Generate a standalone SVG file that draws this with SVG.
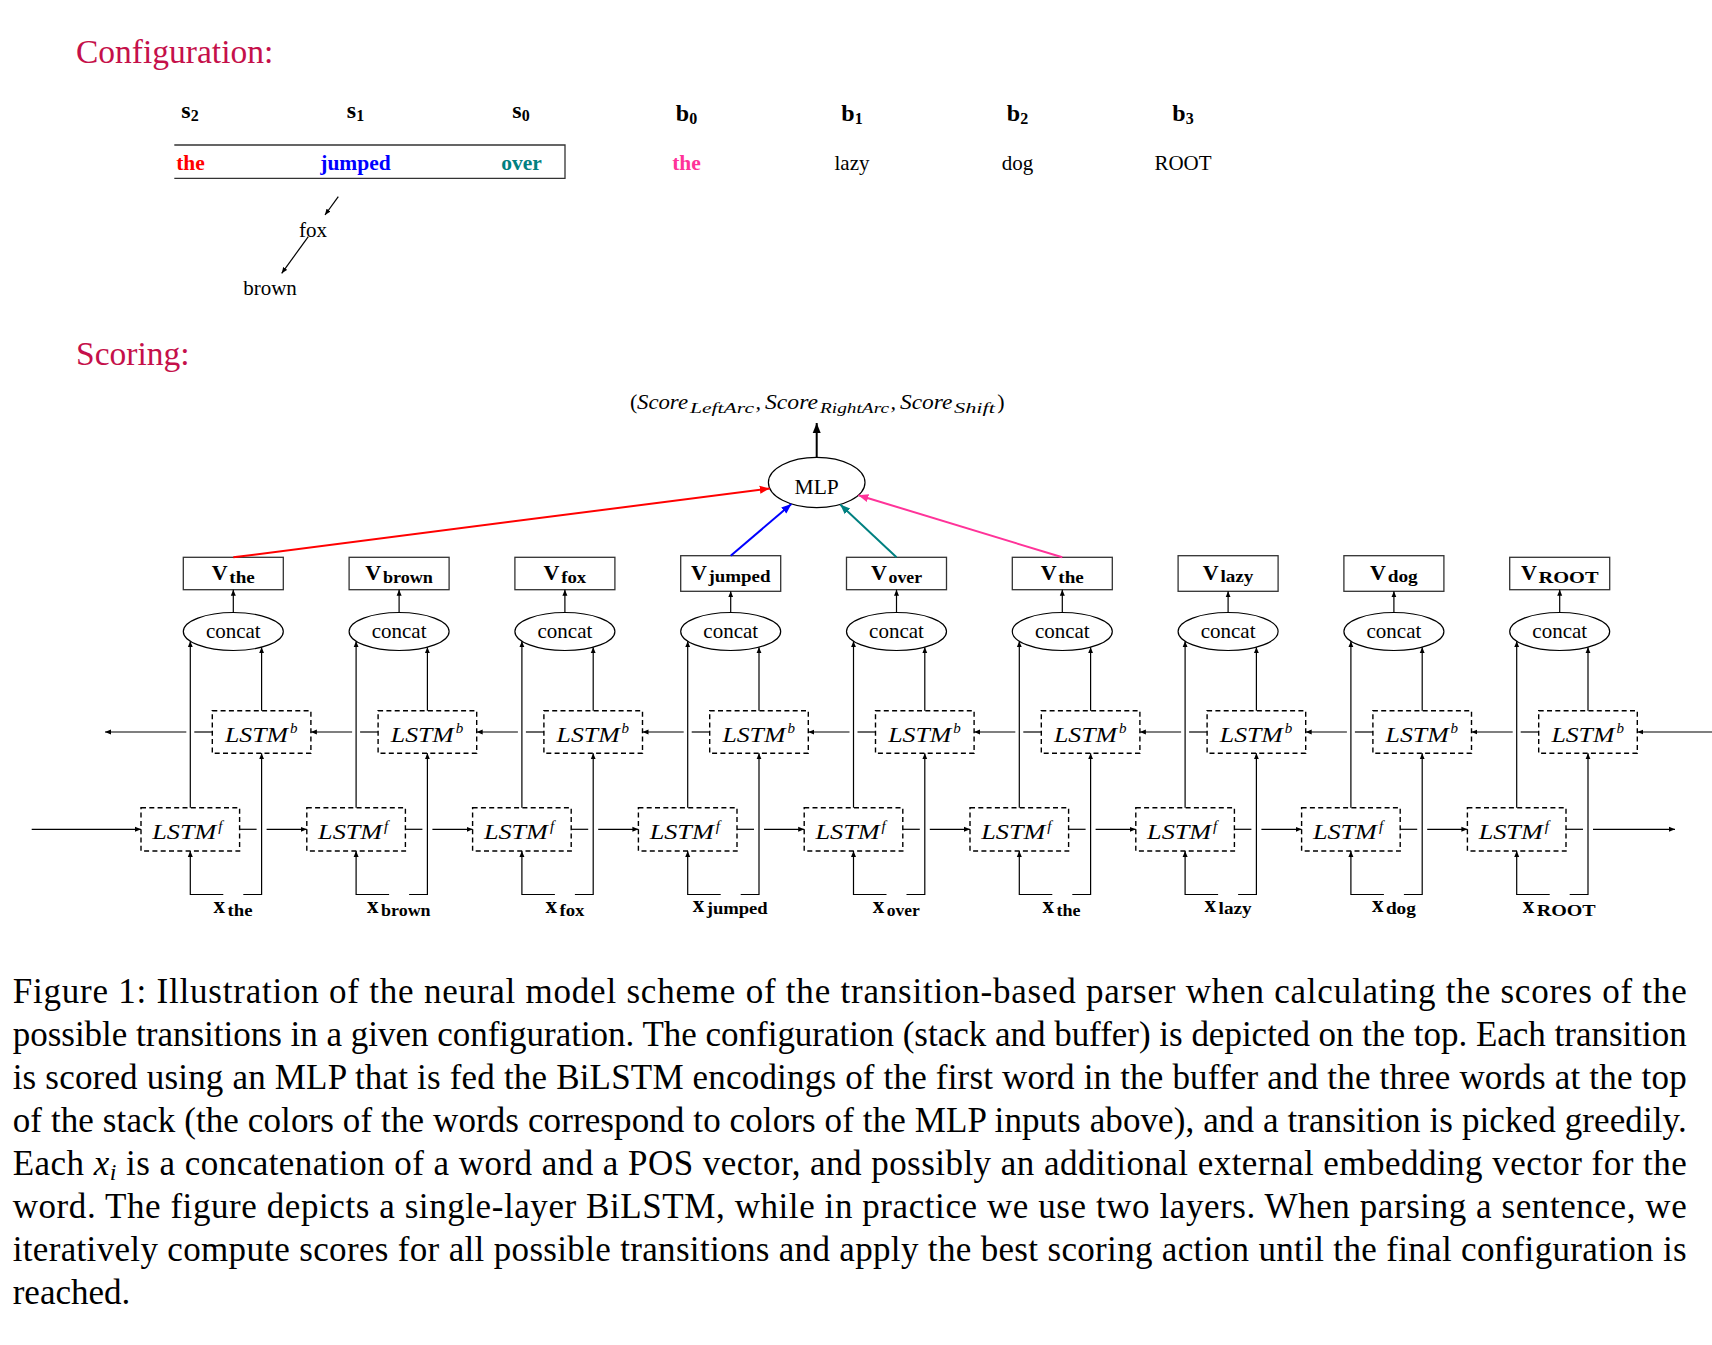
<svg xmlns="http://www.w3.org/2000/svg" width="1712" height="1345" viewBox="0 0 1712 1345">
<style>
text{font-family:"Liberation Serif","Times New Roman",serif;fill:#000}
.ttl{font-size:33.5px;fill:#c5104a}
.lbl{font-size:24px;font-weight:bold}
.lsub{font-size:16px;font-weight:bold}
.w{font-size:21px}
.wb{font-size:21.5px;font-weight:bold}
.vl{font-size:22px;font-weight:bold}
.xl{font-size:23px;font-weight:bold}
.vs{font-size:16px;font-weight:bold}
.vbox{fill:#fff;stroke:#333;stroke-width:1.3}
.ell{fill:#fff;stroke:#000;stroke-width:1.2}
.dash{fill:#fff;stroke:#000;stroke-width:1.4;stroke-dasharray:5 3.3}
.lstm{font-size:22px;font-style:italic}
.sup{font-size:15px;font-style:italic}
.sc{font-size:22px;font-style:italic}
.scs{font-size:15.5px;font-style:italic}
.ln{fill:none;stroke:#000;stroke-width:1.2}
.cap{font-size:35px}
</style>
<defs>
<marker id="ah" markerUnits="userSpaceOnUse" markerWidth="8" markerHeight="6" refX="6" refY="3" orient="auto"><path d="M0,0.5 L6,3 L0,5.5 z" fill="#000"/></marker>
<marker id="ahk" markerUnits="userSpaceOnUse" markerWidth="11" markerHeight="10" refX="10" refY="5" orient="auto"><path d="M0,1 L10,5 L0,9 z" fill="#000"/></marker>
<marker id="ahr" markerUnits="userSpaceOnUse" markerWidth="11" markerHeight="10" refX="10" refY="5" orient="auto"><path d="M0,1 L10,5 L0,9 z" fill="#ff0000"/></marker>
<marker id="ahb" markerUnits="userSpaceOnUse" markerWidth="11" markerHeight="10" refX="10" refY="5" orient="auto"><path d="M0,1 L10,5 L0,9 z" fill="#0000ff"/></marker>
<marker id="aht" markerUnits="userSpaceOnUse" markerWidth="11" markerHeight="10" refX="10" refY="5" orient="auto"><path d="M0,1 L10,5 L0,9 z" fill="#008080"/></marker>
<marker id="ahp" markerUnits="userSpaceOnUse" markerWidth="11" markerHeight="10" refX="10" refY="5" orient="auto"><path d="M0,1 L10,5 L0,9 z" fill="#ff3399"/></marker>
</defs>
<rect width="1712" height="1345" fill="#fff"/>

<!-- Configuration -->
<g id="configuration">
<text class="ttl" x="76" y="62.7">Configuration:</text>
<g id="labels">
<text class="lbl" x="190" y="118" text-anchor="middle">s<tspan class="lsub" dy="3">2</tspan></text>
<text class="lbl" x="355.5" y="118" text-anchor="middle">s<tspan class="lsub" dy="3">1</tspan></text>
<text class="lbl" x="521" y="118" text-anchor="middle">s<tspan class="lsub" dy="3">0</tspan></text>
<text class="lbl" x="686.5" y="120.5" text-anchor="middle">b<tspan class="lsub" dy="3">0</tspan></text>
<text class="lbl" x="852" y="120.5" text-anchor="middle">b<tspan class="lsub" dy="3">1</tspan></text>
<text class="lbl" x="1017.5" y="120.5" text-anchor="middle">b<tspan class="lsub" dy="3">2</tspan></text>
<text class="lbl" x="1183" y="120.5" text-anchor="middle">b<tspan class="lsub" dy="3">3</tspan></text>
</g>
<g id="stack"><path d="M174.3,145 H565 V178.3 H174.3" fill="none" stroke="#333" stroke-width="1.3"/></g>
<g id="w-s2"><text class="wb" x="190.5" y="170" text-anchor="middle" style="fill:#ff0000">the</text></g>
<g id="w-s1"><text class="wb" x="355.5" y="170" text-anchor="middle" style="fill:#0000ff">jumped</text></g>
<g id="w-s0"><text class="wb" x="521.5" y="170" text-anchor="middle" style="fill:#008080">over</text></g>
<g id="w-b0"><text class="wb" x="686.5" y="170" text-anchor="middle" style="fill:#ff3399">the</text></g>
<g id="w-b1"><text class="w" x="852" y="170" text-anchor="middle">lazy</text></g>
<g id="w-b2"><text class="w" x="1017.5" y="170" text-anchor="middle">dog</text></g>
<g id="w-b3"><text class="w" x="1183" y="170" text-anchor="middle">ROOT</text></g>
<g id="w-fox"><text class="w" x="313" y="237.3" text-anchor="middle">fox</text></g>
<g id="w-brown"><text class="w" x="270" y="295" text-anchor="middle">brown</text></g>
<g id="tree-edges">
<path class="ln" d="M338.3,196.7 L325,215" marker-end="url(#ah)"/>
<path class="ln" d="M308.3,236.7 L281.7,273.3" marker-end="url(#ah)"/>
</g>
</g>

<text class="ttl" x="76" y="365">Scoring:</text>

<!-- scores label -->
<g id="scores">
<text class="sc" x="630" y="409.3" style="font-style:normal">(</text>
<text class="sc" x="637" y="409.3" textLength="51" lengthAdjust="spacingAndGlyphs">Score</text>
<text class="scs" x="690" y="413" textLength="64" lengthAdjust="spacingAndGlyphs">LeftArc</text>
<text class="sc" x="755.5" y="409.3">,</text>
<text class="sc" x="765" y="409.3" textLength="53" lengthAdjust="spacingAndGlyphs">Score</text>
<text class="scs" x="820" y="413" textLength="69" lengthAdjust="spacingAndGlyphs">RightArc</text>
<text class="sc" x="890.5" y="409.3">,</text>
<text class="sc" x="900" y="409.3" textLength="52.5" lengthAdjust="spacingAndGlyphs">Score</text>
<text class="scs" x="954" y="413" textLength="41" lengthAdjust="spacingAndGlyphs">Shift</text>
<text class="sc" x="997.3" y="409.3" style="font-style:normal">)</text>
</g>

<g id="mlp"><ellipse class="ell" cx="816.7" cy="482.5" rx="48.3" ry="25.2"/><text class="w" x="816.7" y="494" text-anchor="middle" style="font-size:21.5px">MLP</text></g>

<!-- columns -->
<g transform="translate(233.3,0)">
<g id="v0"><rect class="vbox" x="-50" y="557.3" width="100" height="32.4"/><text class="vl" x="-21.55" y="579.5">V</text><text class="vs" x="-3.95" y="582.5" textLength="25.5" lengthAdjust="spacingAndGlyphs">the</text></g>
<g id="concat0"><ellipse class="ell" cx="0" cy="631.5" rx="50" ry="19"/><text class="w" x="0" y="638.3" text-anchor="middle">concat</text></g>
<g id="lstmb0"><rect class="dash" x="-21" y="710.7" width="98.6" height="42.6"/><text class="lstm" x="-8.3" y="741.7" textLength="63" lengthAdjust="spacingAndGlyphs">LSTM</text><text class="sup" x="56.7" y="732.5">b</text></g>
<g id="lstmf0"><rect class="dash" x="-92.3" y="807.7" width="98.6" height="43.3"/><text class="lstm" x="-81" y="839" textLength="64" lengthAdjust="spacingAndGlyphs">LSTM</text><text class="sup" x="-15" y="830.5">f</text></g>
<g id="x0"><text class="xl" x="-19.75" y="912.5">x</text><text class="vs" x="-5.75" y="915.5" textLength="25" lengthAdjust="spacingAndGlyphs">the</text></g>
</g>
<g transform="translate(399.1,0)">
<g id="v1"><rect class="vbox" x="-50" y="557.3" width="100" height="32.4"/><text class="vl" x="-33.8" y="579.5">V</text><text class="vs" x="-16.2" y="582.5" textLength="50" lengthAdjust="spacingAndGlyphs">brown</text></g>
<g id="concat1"><ellipse class="ell" cx="0" cy="631.5" rx="50" ry="19"/><text class="w" x="0" y="638.3" text-anchor="middle">concat</text></g>
<g id="lstmb1"><rect class="dash" x="-21" y="710.7" width="98.6" height="42.6"/><text class="lstm" x="-8.3" y="741.7" textLength="63" lengthAdjust="spacingAndGlyphs">LSTM</text><text class="sup" x="56.7" y="732.5">b</text></g>
<g id="lstmf1"><rect class="dash" x="-92.3" y="807.7" width="98.6" height="43.3"/><text class="lstm" x="-81" y="839" textLength="64" lengthAdjust="spacingAndGlyphs">LSTM</text><text class="sup" x="-15" y="830.5">f</text></g>
<g id="x1"><text class="xl" x="-32" y="912.5">x</text><text class="vs" x="-18" y="915.5" textLength="49.5" lengthAdjust="spacingAndGlyphs">brown</text></g>
</g>
<g transform="translate(564.9,0)">
<g id="v2"><rect class="vbox" x="-50" y="557.3" width="100" height="32.4"/><text class="vl" x="-21.3" y="579.5">V</text><text class="vs" x="-3.7" y="582.5" textLength="25" lengthAdjust="spacingAndGlyphs">fox</text></g>
<g id="concat2"><ellipse class="ell" cx="0" cy="631.5" rx="50" ry="19"/><text class="w" x="0" y="638.3" text-anchor="middle">concat</text></g>
<g id="lstmb2"><rect class="dash" x="-21" y="710.7" width="98.6" height="42.6"/><text class="lstm" x="-8.3" y="741.7" textLength="63" lengthAdjust="spacingAndGlyphs">LSTM</text><text class="sup" x="56.7" y="732.5">b</text></g>
<g id="lstmf2"><rect class="dash" x="-92.3" y="807.7" width="98.6" height="43.3"/><text class="lstm" x="-81" y="839" textLength="64" lengthAdjust="spacingAndGlyphs">LSTM</text><text class="sup" x="-15" y="830.5">f</text></g>
<g id="x2"><text class="xl" x="-19.5" y="912.5">x</text><text class="vs" x="-5.5" y="915.5" textLength="25" lengthAdjust="spacingAndGlyphs">fox</text></g>
</g>
<g transform="translate(730.7,0)">
<g id="v3"><rect class="vbox" x="-50" y="555.7" width="100" height="35.6"/><text class="vl" x="-39.8" y="579.5">V</text><text class="vs" x="-22.2" y="581.5" textLength="62" lengthAdjust="spacingAndGlyphs">jumped</text></g>
<g id="concat3"><ellipse class="ell" cx="0" cy="631.5" rx="50" ry="19"/><text class="w" x="0" y="638.3" text-anchor="middle">concat</text></g>
<g id="lstmb3"><rect class="dash" x="-21" y="710.7" width="98.6" height="42.6"/><text class="lstm" x="-8.3" y="741.7" textLength="63" lengthAdjust="spacingAndGlyphs">LSTM</text><text class="sup" x="56.7" y="732.5">b</text></g>
<g id="lstmf3"><rect class="dash" x="-92.3" y="807.7" width="98.6" height="43.3"/><text class="lstm" x="-81" y="839" textLength="64" lengthAdjust="spacingAndGlyphs">LSTM</text><text class="sup" x="-15" y="830.5">f</text></g>
<g id="x3"><text class="xl" x="-38" y="911.5">x</text><text class="vs" x="-24" y="913.5" textLength="61" lengthAdjust="spacingAndGlyphs">jumped</text></g>
</g>
<g transform="translate(896.5,0)">
<g id="v4"><rect class="vbox" x="-50" y="557.3" width="100" height="32.4"/><text class="vl" x="-25.55" y="579.5">V</text><text class="vs" x="-7.95" y="582.5" textLength="33.5" lengthAdjust="spacingAndGlyphs">over</text></g>
<g id="concat4"><ellipse class="ell" cx="0" cy="631.5" rx="50" ry="19"/><text class="w" x="0" y="638.3" text-anchor="middle">concat</text></g>
<g id="lstmb4"><rect class="dash" x="-21" y="710.7" width="98.6" height="42.6"/><text class="lstm" x="-8.3" y="741.7" textLength="63" lengthAdjust="spacingAndGlyphs">LSTM</text><text class="sup" x="56.7" y="732.5">b</text></g>
<g id="lstmf4"><rect class="dash" x="-92.3" y="807.7" width="98.6" height="43.3"/><text class="lstm" x="-81" y="839" textLength="64" lengthAdjust="spacingAndGlyphs">LSTM</text><text class="sup" x="-15" y="830.5">f</text></g>
<g id="x4"><text class="xl" x="-23.75" y="912.5">x</text><text class="vs" x="-9.75" y="915.5" textLength="33" lengthAdjust="spacingAndGlyphs">over</text></g>
</g>
<g transform="translate(1062.3,0)">
<g id="v5"><rect class="vbox" x="-50" y="557.3" width="100" height="32.4"/><text class="vl" x="-21.55" y="579.5">V</text><text class="vs" x="-3.95" y="582.5" textLength="25.5" lengthAdjust="spacingAndGlyphs">the</text></g>
<g id="concat5"><ellipse class="ell" cx="0" cy="631.5" rx="50" ry="19"/><text class="w" x="0" y="638.3" text-anchor="middle">concat</text></g>
<g id="lstmb5"><rect class="dash" x="-21" y="710.7" width="98.6" height="42.6"/><text class="lstm" x="-8.3" y="741.7" textLength="63" lengthAdjust="spacingAndGlyphs">LSTM</text><text class="sup" x="56.7" y="732.5">b</text></g>
<g id="lstmf5"><rect class="dash" x="-92.3" y="807.7" width="98.6" height="43.3"/><text class="lstm" x="-81" y="839" textLength="64" lengthAdjust="spacingAndGlyphs">LSTM</text><text class="sup" x="-15" y="830.5">f</text></g>
<g id="x5"><text class="xl" x="-19.75" y="912.5">x</text><text class="vs" x="-5.75" y="915.5" textLength="24" lengthAdjust="spacingAndGlyphs">the</text></g>
</g>
<g transform="translate(1228.1,0)">
<g id="v6"><rect class="vbox" x="-50" y="555.7" width="100" height="35.6"/><text class="vl" x="-25.3" y="579.5">V</text><text class="vs" x="-7.7" y="581.5" textLength="33" lengthAdjust="spacingAndGlyphs">lazy</text></g>
<g id="concat6"><ellipse class="ell" cx="0" cy="631.5" rx="50" ry="19"/><text class="w" x="0" y="638.3" text-anchor="middle">concat</text></g>
<g id="lstmb6"><rect class="dash" x="-21" y="710.7" width="98.6" height="42.6"/><text class="lstm" x="-8.3" y="741.7" textLength="63" lengthAdjust="spacingAndGlyphs">LSTM</text><text class="sup" x="56.7" y="732.5">b</text></g>
<g id="lstmf6"><rect class="dash" x="-92.3" y="807.7" width="98.6" height="43.3"/><text class="lstm" x="-81" y="839" textLength="64" lengthAdjust="spacingAndGlyphs">LSTM</text><text class="sup" x="-15" y="830.5">f</text></g>
<g id="x6"><text class="xl" x="-23.5" y="911.5">x</text><text class="vs" x="-9.5" y="913.5" textLength="33" lengthAdjust="spacingAndGlyphs">lazy</text></g>
</g>
<g transform="translate(1393.9,0)">
<g id="v7"><rect class="vbox" x="-50" y="555.7" width="100" height="35.6"/><text class="vl" x="-23.8" y="579.5">V</text><text class="vs" x="-6.2" y="581.5" textLength="30" lengthAdjust="spacingAndGlyphs">dog</text></g>
<g id="concat7"><ellipse class="ell" cx="0" cy="631.5" rx="50" ry="19"/><text class="w" x="0" y="638.3" text-anchor="middle">concat</text></g>
<g id="lstmb7"><rect class="dash" x="-21" y="710.7" width="98.6" height="42.6"/><text class="lstm" x="-8.3" y="741.7" textLength="63" lengthAdjust="spacingAndGlyphs">LSTM</text><text class="sup" x="56.7" y="732.5">b</text></g>
<g id="lstmf7"><rect class="dash" x="-92.3" y="807.7" width="98.6" height="43.3"/><text class="lstm" x="-81" y="839" textLength="64" lengthAdjust="spacingAndGlyphs">LSTM</text><text class="sup" x="-15" y="830.5">f</text></g>
<g id="x7"><text class="xl" x="-22" y="911.5">x</text><text class="vs" x="-8" y="913.5" textLength="30" lengthAdjust="spacingAndGlyphs">dog</text></g>
</g>
<g transform="translate(1559.7,0)">
<g id="v8"><rect class="vbox" x="-50" y="557.3" width="100" height="32.4"/><text class="vl" x="-38.8" y="579.5">V</text><text class="vs" x="-21.2" y="582.5" textLength="60" lengthAdjust="spacingAndGlyphs">ROOT</text></g>
<g id="concat8"><ellipse class="ell" cx="0" cy="631.5" rx="50" ry="19"/><text class="w" x="0" y="638.3" text-anchor="middle">concat</text></g>
<g id="lstmb8"><rect class="dash" x="-21" y="710.7" width="98.6" height="42.6"/><text class="lstm" x="-8.3" y="741.7" textLength="63" lengthAdjust="spacingAndGlyphs">LSTM</text><text class="sup" x="56.7" y="732.5">b</text></g>
<g id="lstmf8"><rect class="dash" x="-92.3" y="807.7" width="98.6" height="43.3"/><text class="lstm" x="-81" y="839" textLength="64" lengthAdjust="spacingAndGlyphs">LSTM</text><text class="sup" x="-15" y="830.5">f</text></g>
<g id="x8"><text class="xl" x="-37" y="912.5">x</text><text class="vs" x="-23" y="915.5" textLength="59" lengthAdjust="spacingAndGlyphs">ROOT</text></g>
</g>

<!-- connectors -->
<g id="connectors">
<path d="M816.7,457.3 V423" fill="none" stroke="#000" stroke-width="2" marker-end="url(#ahk)"/>
<path d="M233.3,557.3 L769.8,488.5" fill="none" stroke="#ff0000" stroke-width="2" marker-end="url(#ahr)"/>
<path d="M730.7,555.7 L791.4,504" fill="none" stroke="#0000ff" stroke-width="2" marker-end="url(#ahb)"/>
<path d="M896.5,557.3 L840.2,504.5" fill="none" stroke="#008080" stroke-width="2" marker-end="url(#aht)"/>
<path d="M1062.3,557.3 L858.4,495.2" fill="none" stroke="#ff3399" stroke-width="2" marker-end="url(#ahp)"/>
<path class="ln" d="M31.7,829.3 H141" marker-end="url(#ah)"/>
<path class="ln" d="M1712,732 H1637.3" marker-end="url(#ah)"/>

<g transform="translate(233.3,0)">
<path class="ln" d="M0,612.5 V589.7" marker-end="url(#ah)"/>
<path class="ln" d="M-43,807.7 V641.2" marker-end="url(#ah)"/>
<path class="ln" d="M28.3,710.7 V647.2" marker-end="url(#ah)"/>
<path class="ln" d="M-10,894.5 H-43 V851" marker-end="url(#ah)"/>
<path class="ln" d="M10,894.5 H28.3 V753.3" marker-end="url(#ah)"/>
<path class="ln" d="M6.3,829.3 H23.3"/><path class="ln" d="M33.3,829.3 H73.5" marker-end="url(#ah)"/>
<path class="ln" d="M-21,732 H-39"/><path class="ln" d="M-47,732 H-128.3" marker-end="url(#ah)"/>
</g>
<g transform="translate(399.1,0)">
<path class="ln" d="M0,612.5 V589.7" marker-end="url(#ah)"/>
<path class="ln" d="M-43,807.7 V641.2" marker-end="url(#ah)"/>
<path class="ln" d="M28.3,710.7 V647.2" marker-end="url(#ah)"/>
<path class="ln" d="M-10,894.5 H-43 V851" marker-end="url(#ah)"/>
<path class="ln" d="M10,894.5 H28.3 V753.3" marker-end="url(#ah)"/>
<path class="ln" d="M6.3,829.3 H23.3"/><path class="ln" d="M33.3,829.3 H73.5" marker-end="url(#ah)"/>
<path class="ln" d="M-21,732 H-39"/><path class="ln" d="M-47,732 H-88.2" marker-end="url(#ah)"/>
</g>
<g transform="translate(564.9,0)">
<path class="ln" d="M0,612.5 V589.7" marker-end="url(#ah)"/>
<path class="ln" d="M-43,807.7 V641.2" marker-end="url(#ah)"/>
<path class="ln" d="M28.3,710.7 V647.2" marker-end="url(#ah)"/>
<path class="ln" d="M-10,894.5 H-43 V851" marker-end="url(#ah)"/>
<path class="ln" d="M10,894.5 H28.3 V753.3" marker-end="url(#ah)"/>
<path class="ln" d="M6.3,829.3 H23.3"/><path class="ln" d="M33.3,829.3 H73.5" marker-end="url(#ah)"/>
<path class="ln" d="M-21,732 H-39"/><path class="ln" d="M-47,732 H-88.2" marker-end="url(#ah)"/>
</g>
<g transform="translate(730.7,0)">
<path class="ln" d="M0,612.5 V591.3" marker-end="url(#ah)"/>
<path class="ln" d="M-43,807.7 V641.2" marker-end="url(#ah)"/>
<path class="ln" d="M28.3,710.7 V647.2" marker-end="url(#ah)"/>
<path class="ln" d="M-10,894.5 H-43 V851" marker-end="url(#ah)"/>
<path class="ln" d="M10,894.5 H28.3 V753.3" marker-end="url(#ah)"/>
<path class="ln" d="M6.3,829.3 H23.3"/><path class="ln" d="M33.3,829.3 H73.5" marker-end="url(#ah)"/>
<path class="ln" d="M-21,732 H-39"/><path class="ln" d="M-47,732 H-88.2" marker-end="url(#ah)"/>
</g>
<g transform="translate(896.5,0)">
<path class="ln" d="M0,612.5 V589.7" marker-end="url(#ah)"/>
<path class="ln" d="M-43,807.7 V641.2" marker-end="url(#ah)"/>
<path class="ln" d="M28.3,710.7 V647.2" marker-end="url(#ah)"/>
<path class="ln" d="M-10,894.5 H-43 V851" marker-end="url(#ah)"/>
<path class="ln" d="M10,894.5 H28.3 V753.3" marker-end="url(#ah)"/>
<path class="ln" d="M6.3,829.3 H23.3"/><path class="ln" d="M33.3,829.3 H73.5" marker-end="url(#ah)"/>
<path class="ln" d="M-21,732 H-39"/><path class="ln" d="M-47,732 H-88.2" marker-end="url(#ah)"/>
</g>
<g transform="translate(1062.3,0)">
<path class="ln" d="M0,612.5 V589.7" marker-end="url(#ah)"/>
<path class="ln" d="M-43,807.7 V641.2" marker-end="url(#ah)"/>
<path class="ln" d="M28.3,710.7 V647.2" marker-end="url(#ah)"/>
<path class="ln" d="M-10,894.5 H-43 V851" marker-end="url(#ah)"/>
<path class="ln" d="M10,894.5 H28.3 V753.3" marker-end="url(#ah)"/>
<path class="ln" d="M6.3,829.3 H23.3"/><path class="ln" d="M33.3,829.3 H73.5" marker-end="url(#ah)"/>
<path class="ln" d="M-21,732 H-39"/><path class="ln" d="M-47,732 H-88.2" marker-end="url(#ah)"/>
</g>
<g transform="translate(1228.1,0)">
<path class="ln" d="M0,612.5 V591.3" marker-end="url(#ah)"/>
<path class="ln" d="M-43,807.7 V641.2" marker-end="url(#ah)"/>
<path class="ln" d="M28.3,710.7 V647.2" marker-end="url(#ah)"/>
<path class="ln" d="M-10,894.5 H-43 V851" marker-end="url(#ah)"/>
<path class="ln" d="M10,894.5 H28.3 V753.3" marker-end="url(#ah)"/>
<path class="ln" d="M6.3,829.3 H23.3"/><path class="ln" d="M33.3,829.3 H73.5" marker-end="url(#ah)"/>
<path class="ln" d="M-21,732 H-39"/><path class="ln" d="M-47,732 H-88.2" marker-end="url(#ah)"/>
</g>
<g transform="translate(1393.9,0)">
<path class="ln" d="M0,612.5 V591.3" marker-end="url(#ah)"/>
<path class="ln" d="M-43,807.7 V641.2" marker-end="url(#ah)"/>
<path class="ln" d="M28.3,710.7 V647.2" marker-end="url(#ah)"/>
<path class="ln" d="M-10,894.5 H-43 V851" marker-end="url(#ah)"/>
<path class="ln" d="M10,894.5 H28.3 V753.3" marker-end="url(#ah)"/>
<path class="ln" d="M6.3,829.3 H23.3"/><path class="ln" d="M33.3,829.3 H73.5" marker-end="url(#ah)"/>
<path class="ln" d="M-21,732 H-39"/><path class="ln" d="M-47,732 H-88.2" marker-end="url(#ah)"/>
</g>
<g transform="translate(1559.7,0)">
<path class="ln" d="M0,612.5 V589.7" marker-end="url(#ah)"/>
<path class="ln" d="M-43,807.7 V641.2" marker-end="url(#ah)"/>
<path class="ln" d="M28.3,710.7 V647.2" marker-end="url(#ah)"/>
<path class="ln" d="M-10,894.5 H-43 V851" marker-end="url(#ah)"/>
<path class="ln" d="M10,894.5 H28.3 V753.3" marker-end="url(#ah)"/>
<path class="ln" d="M6.3,829.3 H23.3"/><path class="ln" d="M33.3,829.3 H115.3" marker-end="url(#ah)"/>
<path class="ln" d="M-21,732 H-39"/><path class="ln" d="M-47,732 H-88.2" marker-end="url(#ah)"/>
</g>
</g>

<!-- caption -->
<g id="caption">
<text class="cap" x="12.7" y="1003" textLength="1674" lengthAdjust="spacing">Figure 1:  Illustration of the neural model scheme of the transition-based parser when calculating the scores of the</text>
<text class="cap" x="12.7" y="1046" textLength="1674" lengthAdjust="spacing">possible transitions in a given configuration. The configuration (stack and buffer) is depicted on the top. Each transition</text>
<text class="cap" x="12.7" y="1089" textLength="1674" lengthAdjust="spacing">is scored using an MLP that is fed the BiLSTM encodings of the first word in the buffer and the three words at the top</text>
<text class="cap" x="12.7" y="1132" textLength="1674" lengthAdjust="spacing">of the stack (the colors of the words correspond to colors of the MLP inputs above), and a transition is picked greedily.</text>
<text class="cap" x="12.7" y="1175" textLength="1674" lengthAdjust="spacing">Each <tspan style="font-style:italic">x</tspan><tspan style="font-style:italic;font-size:24px" dy="5">i</tspan><tspan dy="-5"> is a concatenation of a word and a POS vector, and possibly an additional external embedding vector for the</tspan></text>
<text class="cap" x="12.7" y="1218" textLength="1674" lengthAdjust="spacing">word.  The figure depicts a single-layer BiLSTM, while in practice we use two layers.  When parsing a sentence, we</text>
<text class="cap" x="12.7" y="1261" textLength="1674" lengthAdjust="spacing">iteratively compute scores for all possible transitions and apply the best scoring action until the final configuration is</text>
<text class="cap" x="12.7" y="1304">reached.</text>
</g>
</svg>
